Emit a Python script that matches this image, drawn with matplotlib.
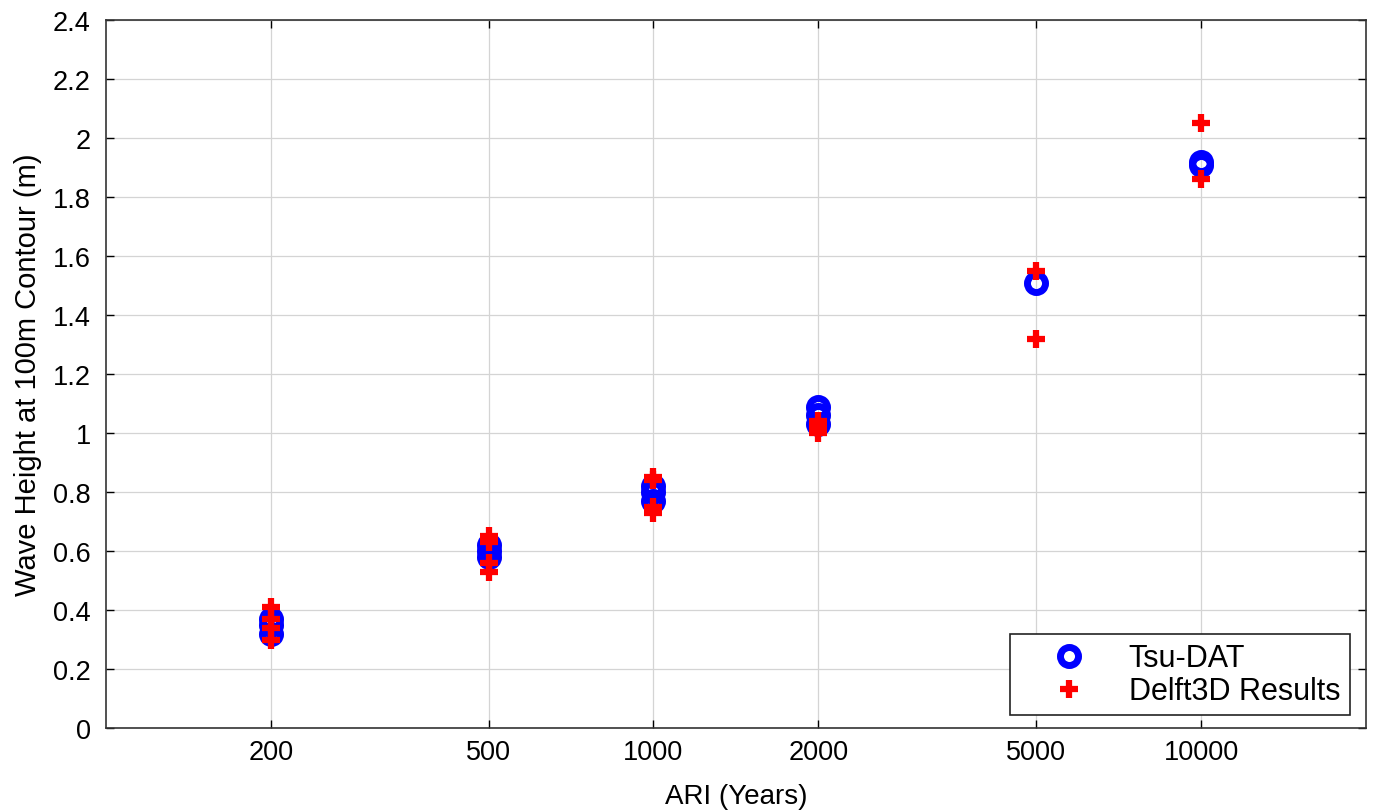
import matplotlib
matplotlib.use("Agg")
import matplotlib.pyplot as plt
from matplotlib.ticker import FixedLocator, FixedFormatter, NullLocator

plt.rcParams['font.family'] = ['Liberation Sans', 'DejaVu Sans']

# ARI values and wave heights
ari_ticks = [200, 500, 1000, 2000, 5000, 10000]
tsu_ari = [200, 200, 200, 500, 500, 500, 1000, 1000, 1000, 2000, 2000, 2000, 5000, 10000, 10000]
tsu_height = [0.32, 0.35, 0.37, 0.58, 0.60, 0.62, 0.77, 0.80, 0.82, 1.03, 1.06, 1.09, 1.51, 1.91, 1.92]
delft_ari = [200, 200, 200, 200, 500, 500, 500, 500, 1000, 1000, 1000, 1000, 2000, 2000, 2000, 5000, 5000, 10000, 10000]
delft_height = [0.30, 0.34, 0.37, 0.41, 0.53, 0.56, 0.63, 0.65, 0.73, 0.75, 0.84, 0.85, 1.00, 1.02, 1.04, 1.55, 1.32, 2.05, 1.86]

fig = plt.figure(figsize=(13.74, 8.12), dpi=100)
ax = fig.add_axes([0.0771, 0.102, 0.917, 0.872])

ax.plot(tsu_ari, tsu_height, linestyle='none', marker='o', markersize=13,
        markerfacecolor='none', markeredgecolor='#0000ff', markeredgewidth=5,
        label='Tsu-DAT', zorder=3)
ax.plot(delft_ari, delft_height, linestyle='none', marker='+', markersize=13,
        markeredgecolor='#ff0000', markeredgewidth=4.5,
        label='Delft3D Results', zorder=4)

ax.set_xscale('log')
ax.set_xlim(100, 20000)
ax.set_ylim(0, 2.4)
ax.xaxis.set_major_locator(FixedLocator(ari_ticks))
ax.xaxis.set_major_formatter(FixedFormatter([str(t) for t in ari_ticks]))
ax.xaxis.set_minor_locator(NullLocator())
ax.set_yticks([i * 0.2 for i in range(13)])
ax.set_yticklabels(['0', '0.2', '0.4', '0.6', '0.8', '1', '1.2', '1.4', '1.6',
                    '1.8', '2', '2.2', '2.4'])

ax.grid(True, color='#d4d4d4', linewidth=0.9)
ax.set_axisbelow(True)
ax.tick_params(direction='in', length=6, labelsize=19.5, width=1, top=True, right=True)
ax.tick_params(axis='y', pad=11)
ax.tick_params(axis='x', pad=8)
for s in ax.spines.values():
    s.set_linewidth(1.2)
    s.set_color('#333333')

ax.set_xlabel('ARI (Years)', fontsize=20, labelpad=13)
ax.set_ylabel('Wave Height at 100m Contour (m)', fontsize=21, labelpad=8)

leg = ax.legend(loc='lower right', fontsize=22, fancybox=False, edgecolor='#222222',
                framealpha=1, borderpad=0.3, handlelength=3.3, handletextpad=0.3,
                labelspacing=0.1, borderaxespad=0, bbox_to_anchor=(0.987, 0.018))
leg.get_frame().set_linewidth(1.2)

fig.savefig('out.png', dpi=100)
